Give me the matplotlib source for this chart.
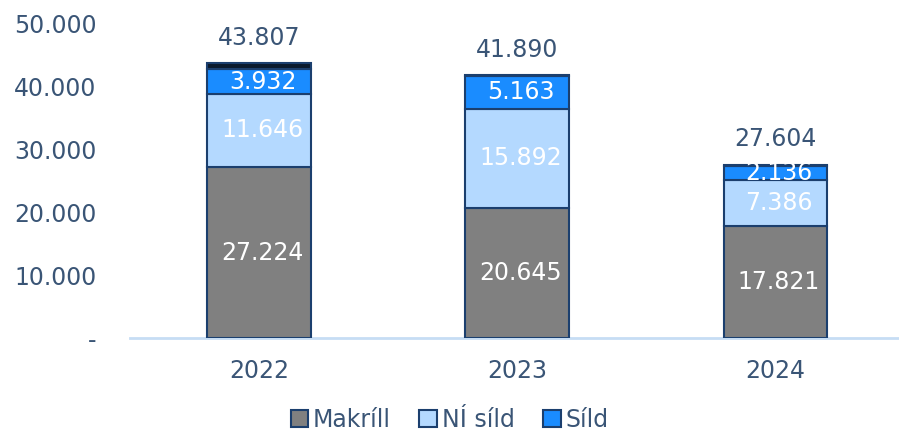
import numpy as np
import matplotlib.pyplot as plt

years = ["2022", "2023", "2024"]
makrill = [27224, 20645, 17821]
ni_sild = [11646, 15892, 7386]
sild = [3932, 5163, 2136]
annad = [1005, 190, 261]  # dark top segment, not in legend

series_names = ["Makríll", "NÍ síld", "Síld"]
colors = ["#808080", "#B4D9FF", "#1A8CFF", "#0B1A2C"]
edge = "#1B3F6E"
txt = "#3A5576"
fs = 17


def fmt(v):
    if v == 0:
        return "-"
    return f"{v:,.0f}".replace(",", ".")


plt.rcParams["font.family"] = ["DejaVu Sans"]

fig = plt.figure(figsize=(8.99, 4.34), dpi=100)
ax = fig.add_axes([130 / 899, 1 - 338 / 434, 1 - 130 / 899, (338 - 24) / 434])

x = np.arange(len(years))
w = 0.4
bottom = np.zeros(len(years))
stack = [makrill, ni_sild, sild, annad]
for i, vals in enumerate(stack):
    vals = np.array(vals)
    label = series_names[i] if i < len(series_names) else None
    ax.bar(x, vals, w, bottom=bottom, color=colors[i], edgecolor=edge,
           linewidth=1.5, label=label, zorder=2)
    if i < 3:
        for xi, b, v in zip(x, bottom, vals):
            ax.text(xi + 0.015, b + v / 2, fmt(v), ha="center", va="center",
                    color="white", fontsize=fs, zorder=3)
    bottom = bottom + vals

for xi, t in zip(x, bottom):
    ax.text(xi, t + 2100, fmt(t), ha="center", va="bottom", color=txt,
            fontsize=fs)

ax.axhline(0, color="#C6DDF4", lw=2, zorder=1, clip_on=False)
ax.set_xlim(-0.5, 2.48)
ax.set_ylim(0, 50000)
ax.set_yticks(range(0, 50001, 10000))
ax.set_yticklabels([fmt(v) for v in range(0, 50001, 10000)])
ax.set_xticks(x)
ax.set_xticklabels(years)
ax.tick_params(length=0, labelsize=fs, colors=txt)
ax.tick_params(axis="y", pad=24)
ax.tick_params(axis="x", pad=15)
for s in ax.spines.values():
    s.set_visible(False)

leg = fig.legend(loc="center", bbox_to_anchor=(0.5, 1 - 420 / 434), ncol=3,
                 frameon=False, fontsize=fs, handlelength=0.75,
                 handleheight=0.75, handletextpad=0.2, columnspacing=1.2)
for t in leg.get_texts():
    t.set_color(txt)

fig.savefig("out.png", dpi=100)
